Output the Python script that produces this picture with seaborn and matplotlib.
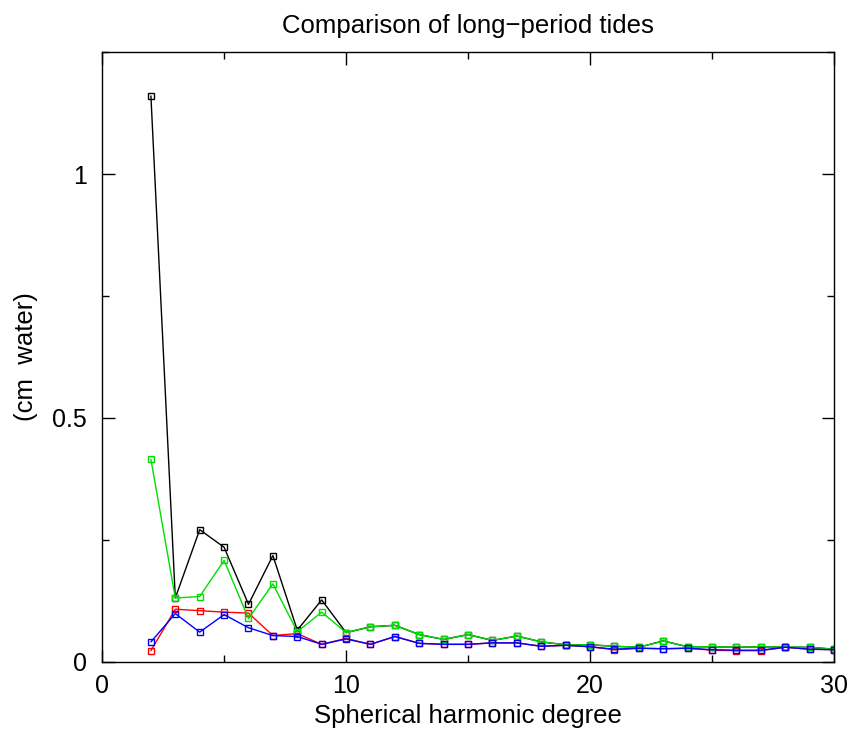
import numpy as np
import pandas as pd
import matplotlib
matplotlib.use('Agg')
import matplotlib.pyplot as plt
import seaborn as sns
from matplotlib.ticker import MultipleLocator, FuncFormatter

degree = list(range(2, 31))

black_vals = [1.16, 0.131, 0.271, 0.235, 0.118, 0.218, 0.065, 0.127, 0.060,
              0.072, 0.075, 0.056, 0.046, 0.056, 0.044, 0.053, 0.041, 0.035, 0.035,
              0.032, 0.030, 0.043, 0.031, 0.031, 0.030, 0.031, 0.030, 0.030, 0.026]
red_vals = [0.023, 0.108, 0.105, 0.102, 0.100, 0.054, 0.058, 0.036, 0.048,
            0.036, 0.052, 0.038, 0.036, 0.036, 0.039, 0.039, 0.032, 0.034, 0.031,
            0.025, 0.028, 0.027, 0.028, 0.024, 0.023, 0.023, 0.030, 0.026, 0.025]
green_vals = [0.415, 0.131, 0.134, 0.208, 0.089, 0.160, 0.062, 0.102, 0.060,
              0.072, 0.075, 0.056, 0.046, 0.056, 0.044, 0.053, 0.041, 0.035, 0.035,
              0.032, 0.030, 0.043, 0.031, 0.031, 0.030, 0.031, 0.030, 0.030, 0.026]
blue_vals = [0.041, 0.099, 0.061, 0.097, 0.070, 0.054, 0.052, 0.036, 0.047,
             0.036, 0.052, 0.038, 0.036, 0.036, 0.039, 0.039, 0.032, 0.034, 0.031,
             0.026, 0.028, 0.027, 0.028, 0.025, 0.024, 0.024, 0.030, 0.026, 0.025]

sns.set_style("ticks")
plt.rcParams['font.family'] = ['Liberation Sans', 'DejaVu Sans']
plt.rcParams['text.color'] = 'black'
plt.rcParams['axes.labelcolor'] = 'black'
plt.rcParams['xtick.color'] = 'black'
plt.rcParams['ytick.color'] = 'black'

fig = plt.figure(figsize=(8.51, 7.33), dpi=100)
ax = fig.add_axes([0.12, 0.097, 0.86, 0.832])

series = [(black_vals, 'black'), (red_vals, '#ff0000'),
          (green_vals, '#00dd00'), (blue_vals, '#0000ff')]
for vals, col in series:
    df = pd.DataFrame({'deg': degree, 'val': vals})
    sns.lineplot(data=df, x='deg', y='val', ax=ax, color=col, linewidth=1,
                 marker='s', markersize=4, markerfacecolor='none',
                 markeredgecolor=col, markeredgewidth=1)

ax.set_xlim(0, 30)
ax.set_ylim(0, 1.25)
ax.xaxis.set_major_locator(MultipleLocator(10))
ax.xaxis.set_minor_locator(MultipleLocator(5))
ax.yaxis.set_major_locator(MultipleLocator(0.5))
ax.yaxis.set_minor_locator(MultipleLocator(0.25))
ax.yaxis.set_major_formatter(FuncFormatter(lambda v, p: '%g' % v))
ax.tick_params(which='both', direction='in', top=True, right=True, labelsize=18)
ax.tick_params(axis='x', pad=9)
ax.tick_params(axis='y', pad=11)
ax.tick_params(which='major', length=9, width=1)
ax.tick_params(which='minor', length=5, width=1)
for s in ax.spines.values():
    s.set_linewidth(1)
    s.set_color('black')

ax.set_xlabel('Spherical harmonic degree', fontsize=18.5, labelpad=4)
ax.set_ylabel('(cm  water)', fontsize=18.5, labelpad=10)
ax.set_title('Comparison of long\u2212period tides', fontsize=18.5, pad=14)

fig.savefig('out.png', dpi=100)
